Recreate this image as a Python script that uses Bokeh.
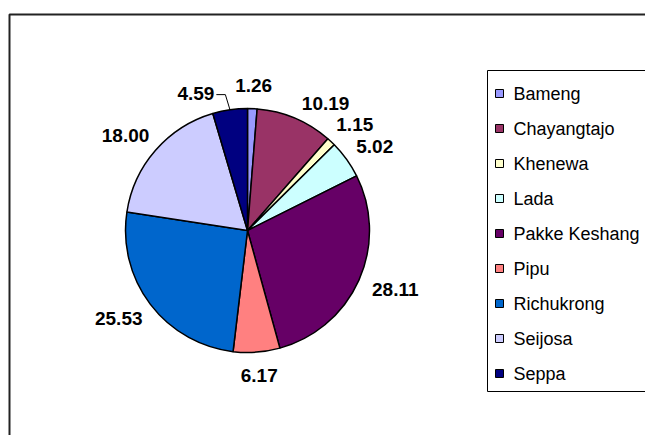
import numpy as np
from bokeh.plotting import figure
from bokeh.models import Range1d
from bokeh.embed import file_html
from bokeh.resources import INLINE
from bokeh.core.properties import value

# ---- data ----
districts = ["Bameng", "Chayangtajo", "Khenewa", "Lada", "Pakke Keshang",
             "Pipu", "Richukrong", "Seijosa", "Seppa"]
shares = [1.26, 10.19, 1.15, 5.02, 28.11, 6.17, 25.53, 18.00, 4.59]
colors = ["#9999FF", "#993366", "#FFFFCC", "#CCFFFF", "#660066",
          "#FF8080", "#0066CC", "#CCCCFF", "#000080"]

# ---- layout (screen px, y measured up from the bottom of the figure) ----
W, H = 645, 435
cx, cy, r = 247, 205, 122
FS = 19
label_nudge_deg = {"Chayangtajo": 6.0, "Seppa": -11.0}
LEG_LEFT, LEG_TOP, LEG_BOTTOM = 487, 365, 44
LEG_FIRST, LEG_PITCH = 342, 35

p = figure(width=W, height=H, output_backend="svg", toolbar_location=None,
           x_range=Range1d(0, W), y_range=Range1d(0, H), min_border=0,
           x_axis_location=None, y_axis_location=None)
p.grid.visible = False
p.outline_line_color = None
p.background_fill_color = "white"
p.border_fill_color = "white"

# chart frame (clipped by the window, like the reference)
p.quad(left=9, right=W + 30, bottom=-30, top=H - 14, fill_color=None,
       line_color="#222222", line_width=2)

vals = np.array(shares, dtype=float)
cum = np.concatenate([[0.0], np.cumsum(vals)])
tot = cum[-1]
start = np.pi / 2 - 2 * np.pi * cum[:-1] / tot
end = np.pi / 2 - 2 * np.pi * cum[1:] / tot

p.wedge(x=cx, y=cy, radius=r, start_angle=start, end_angle=end,
        direction="clock", fill_color=colors, line_color="black",
        line_width=1.5)

# data labels
mid = 2 * np.pi * (cum[:-1] + cum[1:]) / 2 / tot   # clockwise from top
labels = [f"{v:.2f}" for v in shares]
D = r + 16
hh = 14
lx, ly = [], []
lead_x, lead_y = [], []
for i, (d, s) in enumerate(zip(districts, labels)):
    a = mid[i] + np.deg2rad(label_nudge_deg.get(d, 0.0))
    w = (len(s) - 1) * 0.556 * FS + 0.278 * FS
    x = cx + (D + w / 2) * np.sin(a)
    y = cy + (D + hh / 2) * np.cos(a)
    lx.append(x)
    ly.append(y)
    if d == "Seppa":
        xr = x + w / 2 + 2
        ex = cx + r * np.sin(mid[i])
        ey = cy + r * np.cos(mid[i])
        lead_x.append([xr, xr + 9, ex])
        lead_y.append([y - 1, y - 1, ey])

if lead_x:
    p.multi_line(xs=lead_x, ys=lead_y, line_color="black", line_width=1)

p.text(x=lx, y=ly, text=labels, text_font=value("Liberation Sans"),
       text_font_style="bold", text_font_size=f"{FS}px", text_align="center",
       text_baseline="middle", text_color="black")

# legend (box runs past the right edge, as in the reference)
p.quad(left=LEG_LEFT, right=W + 30, bottom=LEG_BOTTOM, top=LEG_TOP,
       fill_color="white", line_color="black", line_width=1)
ny = len(districts)
iy = [LEG_FIRST - LEG_PITCH * k for k in range(ny)]
p.rect(x=[LEG_LEFT + 12] * ny, y=iy, width=8, height=8, fill_color=colors,
       line_color="black", line_width=1)
p.text(x=[LEG_LEFT + 26] * ny, y=iy, text=districts,
       text_font=value("Liberation Sans"), text_font_size="18px",
       text_align="left", text_baseline="middle", text_color="black")

open("out.html", "w").write(file_html(p, INLINE))
